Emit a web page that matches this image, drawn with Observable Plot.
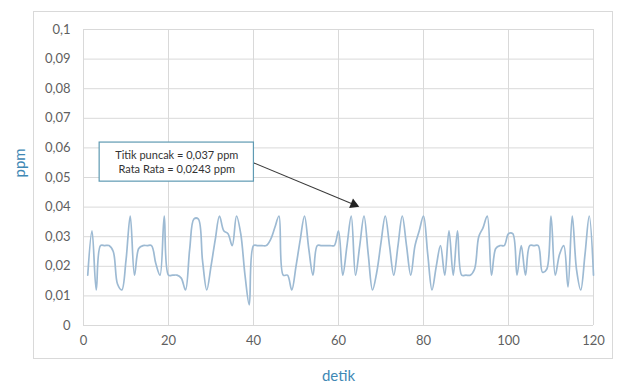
<!DOCTYPE html>
<html><head><meta charset="utf-8">
<script src="https://cdn.jsdelivr.net/npm/d3@7"></script>
<script src="https://cdn.jsdelivr.net/npm/@observablehq/plot@0.6"></script>
<style>
body{margin:0;background:#fff;}
#wrap{position:relative;width:621px;height:392px;overflow:hidden;}
#border{position:absolute;left:33px;top:11px;width:580px;height:348px;border:1px solid #d9d9d9;box-sizing:border-box;}
#wrap svg{position:absolute;left:0;top:0;}
</style></head><body><div id="wrap"><div id="border"></div></div>
<script>
const seconds = d3.range(1, 121);
const ppm = [
  0.017, 0.032, 0.012, 0.027, 0.027, 0.027, 0.025, 0.014, 0.012, 0.022,
  0.037, 0.017, 0.026, 0.027, 0.027, 0.027, 0.021, 0.017, 0.037, 0.017,
  0.017, 0.017, 0.016, 0.012, 0.026, 0.036, 0.036, 0.022, 0.012, 0.020,
  0.029, 0.037, 0.032, 0.031, 0.027, 0.037, 0.031, 0.017, 0.007, 0.027,
  0.027, 0.027, 0.027, 0.029, 0.033, 0.037, 0.017, 0.017, 0.012, 0.020,
  0.029, 0.037, 0.026, 0.017, 0.027, 0.027, 0.027, 0.027, 0.027, 0.032,
  0.017, 0.027, 0.037, 0.017, 0.027, 0.037, 0.024, 0.012, 0.018, 0.028,
  0.037, 0.027, 0.017, 0.027, 0.037, 0.027, 0.017, 0.027, 0.032, 0.037,
  0.024, 0.012, 0.020, 0.027, 0.017, 0.032, 0.017, 0.032, 0.017, 0.017,
  0.017, 0.019, 0.030, 0.033, 0.037, 0.017, 0.026, 0.027, 0.027, 0.031,
  0.031, 0.017, 0.027, 0.017, 0.027, 0.027, 0.027, 0.018, 0.019, 0.037,
  0.017, 0.024, 0.027, 0.013, 0.037, 0.019, 0.012, 0.024, 0.037, 0.017
];
const xTicks = [0, 20, 40, 60, 80, 100, 120];
const yTicks = [0, 0.01, 0.02, 0.03, 0.04, 0.05, 0.06, 0.07, 0.08, 0.09, 0.1];
const annotationLines = ["Titik puncak = 0,037 ppm", "Rata Rata = 0,0243 ppm"];
const xLabel = "detik";
const yLabel = "ppm";

const data = seconds.map((t, i) => ({t, v: ppm[i]}));
const fmtY = d => d === 0 ? "0" : String(+d.toFixed(2)).replace(".", ",");

const chart = Plot.plot({
  width: 621, height: 392,
  marginLeft: 83, marginRight: 28, marginTop: 29, marginBottom: 67,
  style: {fontFamily: "Lato, 'Open Sans', sans-serif", fontSize: "13px", color: "#5f5f5f", background: "transparent", overflow: "visible"},
  x: {domain: [0, 120], ticks: xTicks, tickSize: 0, tickPadding: 10, label: null},
  y: {domain: [0, 0.1], ticks: yTicks, tickFormat: fmtY, tickSize: 0, tickPadding: 13, label: null},
  marks: [
    Plot.gridY(yTicks, {stroke: "#d9d9d9", strokeOpacity: 1}),
    Plot.gridX(xTicks, {stroke: "#d9d9d9", strokeOpacity: 1}),
    Plot.line(data, {x: "t", y: "v", curve: "catmull-rom", stroke: "#9dbad3", strokeWidth: 1.7}),
    Plot.link([{}], {x1: 40.1, y1: 0.0549, x2: 63.6, y2: 0.0409, stroke: "#3a3a3a", strokeWidth: 1.1}),
    Plot.dot([{}], {x: 63.6, y: 0.0409, symbol: "triangle", r: 3.8, rotate: 112, fill: "#222", stroke: "none"}),
    Plot.rect([{}], {x1: 3.8, x2: 40.1, y1: 0.0486, y2: 0.0618, fill: "white", stroke: "#5f9ab3", strokeWidth: 1.2}),
    Plot.text(annotationLines, {x: 21.95, y: (d, i) => i === 0 ? 0.0575 : 0.0526, text: d => d, fontSize: 11, fill: "#333", fontFamily: "Lato, sans-serif"}),
    Plot.text([xLabel], {frameAnchor: "bottom", dy: 55, text: d => d, fontSize: 15, fill: "#3f88b5"}),
    Plot.text([yLabel], {frameAnchor: "left", dx: -63, rotate: -90, text: d => d, fontSize: 15, fill: "#3f88b5"})
  ]
});
document.getElementById("wrap").appendChild(chart);
</script>
</body></html>
